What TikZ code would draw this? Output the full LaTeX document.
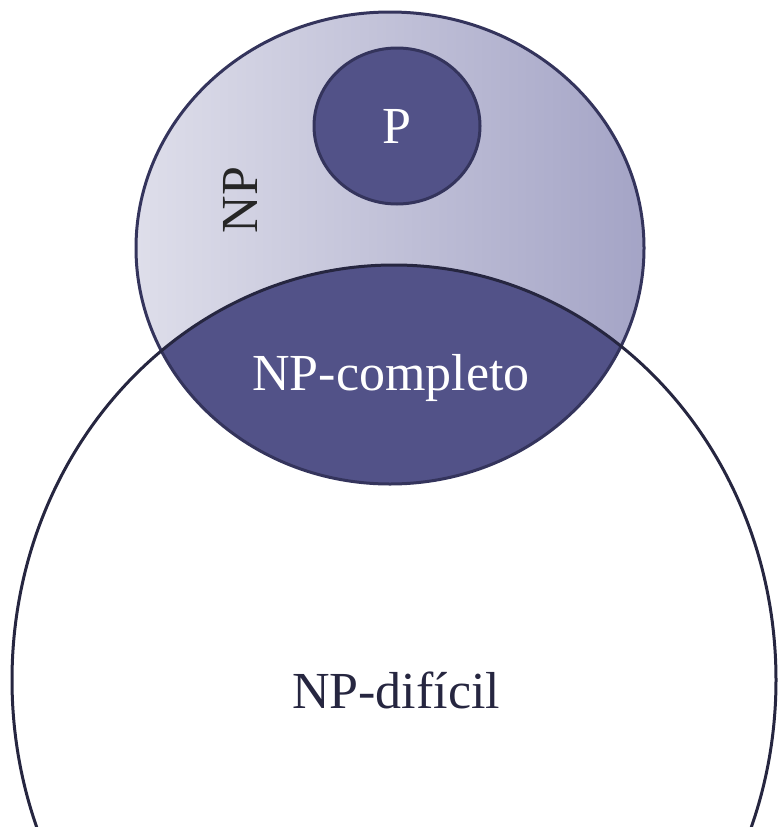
\documentclass[tikz,border=0pt]{standalone}
\usepackage{fontspec}
\setmainfont{Liberation Serif}
\usepackage{tikz}
\usetikzlibrary{shapes.geometric}
\definecolor{npdark}{RGB}{82,82,136}
\definecolor{npline}{RGB}{52,52,92}
\definecolor{hardline}{RGB}{38,38,64}
\definecolor{nplight}{RGB}{222,222,234}
\definecolor{npmid}{RGB}{164,164,198}
\tikzstyle{setlabel} = [font=\fontsize{52}{62}\selectfont, inner sep=0pt]
\tikzstyle{setline} = [line width=3pt, draw=npline]

\begin{document}
\begin{tikzpicture}[x=1pt, y=-1pt]
    \useasboundingbox (0,0) rectangle (778,827);
    \coordinate (npc) at (390,248);
    \coordinate (hardc) at (394,680);
    \coordinate (pc) at (397,126);

    % NP set with light shading
    \shade[left color=nplight, right color=npmid] (npc) ellipse [x radius=254pt, y radius=236pt];

    % NP-completo = NP cut with NP-difficult
    \begin{scope}
        \clip (npc) ellipse [x radius=254pt, y radius=236pt];
        \fill[npdark] (hardc) ellipse [x radius=382pt, y radius=415pt];
    \end{scope}

    % outlines
    \draw[setline] (npc) ellipse [x radius=254pt, y radius=236pt];
    \draw[line width=3pt, draw=hardline] (hardc) ellipse [x radius=382pt, y radius=415pt];

    % P set
    \draw[setline, fill=npdark] (pc) ellipse [x radius=83pt, y radius=78pt];

    \node[setlabel, text=white] (p) at (pc) {P};
    \node[setlabel, text=black!85, rotate=90] (np) at (240,200) {NP};
    \node[setlabel, text=white] (npcomplete) at (391,378) {NP-completo};
    \node[setlabel, text=hardline] (nphard) at (396,690) {NP-difícil};
\end{tikzpicture}
\end{document}
